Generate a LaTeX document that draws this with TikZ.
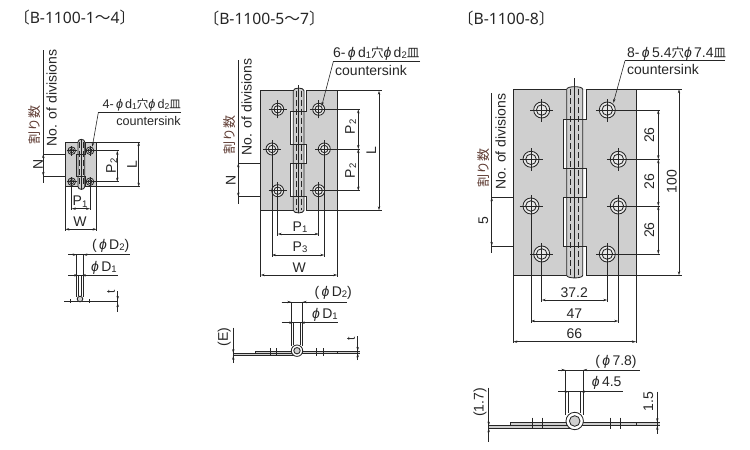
\documentclass[tikz,border=0pt]{standalone}
\usepackage{fontspec}
\usetikzlibrary{arrows.meta}
\setmainfont{Liberation Sans}
\newfontfamily\cjk{Noto Sans CJK JP}
\newfontfamily\headfont{Noto Sans}
\definecolor{platecol}{HTML}{CFCFCF}
\definecolor{inkcol}{HTML}{262626}
\definecolor{labcol}{HTML}{262626}
\definecolor{kanjicol}{HTML}{5E3B32}
\tikzset{
  edge/.style={draw=inkcol, line width=0.85pt},
  aux/.style={draw=inkcol, line width=0.6pt},
  dim/.style={aux, {Stealth[length=4pt,width=2.4pt]}-{Stealth[length=4pt,width=2.4pt]}},
  dimtip/.style={aux, -{Stealth[length=4pt,width=2.4pt]}},
  lab/.style={font=\fontsize{14}{16}\selectfont, text=labcol, inner sep=0pt},
  tinylab/.style={font=\fontsize{12.6}{15}\selectfont, text=labcol, inner sep=0pt},
  vlab/.style={lab, rotate=90},
  kanji/.style={font=\cjk\fontsize{13}{16}\selectfont, text=kanjicol, inner sep=0pt, rotate=90},
  head/.style={font=\headfont\fontsize{15.7}{18}\selectfont, text=labcol, inner sep=0pt},
}
\newcommand{\lowidx}[1]{\raisebox{-.08em}{\scalebox{.68}{#1}}}
\newcommand{\phisym}{{\itshape ϕ}}
\newcommand{\headcjk}[1]{{\cjk\fontsize{15.7}{18}\selectfont #1}}
\newcommand{\holemark}[5]{% name, position, outer radius, inner radius, arm
  \coordinate (#1) at (#2);
  \fill[white!55!platecol] (#1) circle [radius=#3];
  \draw[edge] (#1) circle [radius=#3];
  \draw[edge] (#1) circle [radius=#4];
  \draw[aux] ([xshift=-#5]#1) -- ([xshift=#5]#1);
  \draw[aux] ([yshift=-#5]#1) -- ([yshift=#5]#1);
}
\def\splitys#1/#2/#3/#4\relax{\def\ya{#1}\def\yb{#2}\def\yc{#3}\def\yd{#4}}
\newcommand{\hingebody}[9]{% xl, recess, knuckle l, knuckle r, right leaf, xr, top, bottom, tab rows
  \splitys#9\relax
  \fill[platecol] (#1,#7) rectangle (#6,#8);
  \fill[white] (#4,#7) rectangle (#5,\ya) (#4,\yb) rectangle (#5,\yc) (#4,\yd) rectangle (#5,#8);
  \fill[white] (#2,\ya) rectangle (#3,\yb) (#2,\yc) rectangle (#3,\yd);
  \draw[edge] (#3,#7) -- (#1,#7) -- (#1,#8) -- (#3,#8);
  \draw[edge] (#5,#7) -- (#6,#7) -- (#6,#8) -- (#5,#8) -- (#5,\yd) -- (#2,\yd) -- (#2,\yc)
     -- (#5,\yc) -- (#5,\yb) -- (#2,\yb) -- (#2,\ya) -- (#5,\ya) -- cycle;
  \draw[edge, fill=platecol] (#3,#8) .. controls (#3,#8+3.5) and (#4,#8+3.5) .. (#4,#8)
     -- (#4,#7) .. controls (#4,#7-3.5) and (#3,#7-3.5) .. (#3,#7) -- cycle;
  \draw[aux, dashed, dash pattern=on 6pt off 3pt] ({#3+(#4-#3)/4},#7) -- ({#3+(#4-#3)/4},#8);
  \draw[aux, dashed, dash pattern=on 6pt off 3pt] ({#4-(#4-#3)/4},#7) -- ({#4-(#4-#3)/4},#8);
  \draw[edge] (#5,\ya) -- (#2,\ya) (#5,\yb) -- (#2,\yb) (#5,\yc) -- (#2,\yc) (#5,\yd) -- (#2,\yd);
}
\begin{document}
\begin{tikzpicture}[x=1pt, y=-1pt]
\useasboundingbox (0,0) rectangle (750,450);

% small hinge
\node[head] (headA) at (74.7,17.7) {\headcjk{〔}B-1100-1\headcjk{〜}4\headcjk{〕}};
\draw[aux] (43.3,154) -- (85.3,154);
\draw[aux] (43.3,176) -- (85.3,176);
\hingebody{65.3}{76.7}{78}{84.7}{85.7}{96.7}{142}{186.7}{154/176/176/176}
\draw[aux] (81.3,139) -- (81.3,190);
\holemark{holeAa}{71.7,150.7}{3.8}{2}{5pt}
\holemark{holeAb}{90,150.7}{3.8}{2}{5pt}
\holemark{holeAc}{71.7,181.7}{3.8}{2}{5pt}
\holemark{holeAd}{90,181.7}{3.8}{2}{5pt}
\draw[aux] (43.3,50) -- (43.3,183.3);
\draw[dim] (43.3,154) -- (43.3,176);
\node[kanji] (kanjiA) at (35,125) {割り数};
\node[vlab] (divA) at (51.7,98) {No. of divisions};
\node[vlab] (nA) at (38,164) {N};
\draw[aux] (holeAb) -- (118.5,150.7);
\draw[aux] (holeAd) -- (118.5,181.7);
\draw[dim] (117.3,150.7) -- (117.3,181.7);
\node[vlab] (ptwoA) at (111.7,165.7) {P\lowidx{2}};
\draw[aux] (96.7,142) -- (140,142);
\draw[aux] (96.7,186.7) -- (140,186.7);
\draw[dim] (138.7,142) -- (138.7,186.7);
\node[vlab] (lenA) at (132,165) {L};
\draw[aux] (holeAc) -- (71.7,210);
\draw[aux] (holeAd) -- (90,210);
\draw[dim] (71.7,208.7) -- (90,208.7);
\node[lab] (poneA) at (80,201.7) {P\lowidx{1}};
\draw[aux] (65.3,186.7) -- (65.3,231);
\draw[aux] (96.7,186.7) -- (96.7,231);
\draw[dim] (65.3,229.3) -- (96.7,229.3);
\node[lab] (widA) at (80,221.7) {W};
\node[tinylab, anchor=east] (holeA) at (181,105) {4-\,\phisym\,d\lowidx{1}{\cjk\fontsize{11.5}{14}\selectfont 穴}\phisym\,d\lowidx{2}{\cjk\fontsize{11.5}{14}\selectfont 皿}};
\node[tinylab, anchor=east] (sinkA) at (181,120.7) {countersink};
\coordinate (tipA) at (92.3,146.7);
\draw[aux] (181,112.7) -- (98.3,112.7);
\draw[dimtip] (98.3,112.7) -- (tipA);

% small hinge, side view
\draw[line width=1.3pt, draw=inkcol] (64,301.3) -- (116.7,301.3);
\draw[aux] (70,299) -- (70,303);
\draw[aux] (89.3,299) -- (89.3,303);
\draw[aux] (76.7,254.7) -- (76.7,297);
\draw[aux] (83.3,254.7) -- (83.3,297);
\draw[aux] (78.3,275.3) -- (78.3,296);
\draw[aux] (81.7,275.3) -- (81.7,296);
\draw[edge, fill=platecol] (80,299) circle [radius=2.8];
\draw[aux] (68.3,254.7) -- (130,254.7);
\draw[dimtip] (68.3,254.7) -- (76.7,254.7);
\draw[dimtip] (91.3,254.7) -- (83.3,254.7);
\draw[aux] (68.3,275.3) -- (118.3,275.3);
\draw[dimtip] (70,275.3) -- (78.3,275.3);
\draw[dimtip] (90,275.3) -- (81.7,275.3);
\node[lab] (dtwoA) at (110.7,245.7) {(\,\phisym\,D\lowidx{2})};
\node[lab] (doneA) at (104,267.7) {\phisym\,D\lowidx{1}};
\draw[aux] (117.7,291) -- (117.7,311.7);
\draw[dimtip] (117.7,291) -- (117.7,300);
\draw[dimtip] (117.7,311.7) -- (117.7,303);
\node[lab, rotate=90, font=\fontsize{12}{14}\selectfont] (thkA) at (111,292) {t};

% medium hinge
\node[head] (headB) at (264.2,18.3) {\headcjk{〔}B-1100-5\headcjk{〜}7\headcjk{〕}};
\draw[aux] (238.3,163.3) -- (306,163.3);
\draw[aux] (238.3,196.7) -- (306,196.7);
\hingebody{260.7}{290.7}{293.3}{304}{306}{337.3}{90.7}{210.3}{111.7/144/163.3/196.7}
\draw[aux] (298.7,85) -- (298.7,213);
\foreach \nm/\hx/\hy in {Ba/277.7/109.3, Bb/272/149, Bc/277.7/190.7,
    Bd/318.7/109.3, Be/324.3/149, Bf/318.7/190.7}
  {\holemark{hole\nm}{\hx,\hy}{6}{3.7}{9pt}}
\draw[aux] (238.3,60) -- (238.3,204);
\draw[dim] (238.3,163.3) -- (238.3,196.7);
\node[kanji] (kanjiB) at (229.3,135) {割り数};
\node[vlab] (divB) at (246.7,107) {No. of divisions};
\node[vlab] (nB) at (230.7,180) {N};
\draw[aux] (holeBd) -- (360,109.3);
\draw[aux] (holeBe) -- (360,149);
\draw[aux] (holeBf) -- (360,190.7);
\draw[dim] (358.3,109.3) -- (358.3,149);
\draw[dim] (358.3,149) -- (358.3,190.7);
\node[vlab] (ptwoB) at (350.7,126.7) {P\lowidx{2}};
\node[vlab] (pthrB) at (350.7,170.7) {P\lowidx{2}};
\draw[aux] (337.3,90.7) -- (382,90.7);
\draw[aux] (337.3,210.3) -- (382,210.3);
\draw[dim] (379,90.7) -- (379,210.3);
\node[vlab] (lenB) at (371.3,150.7) {L};
\draw[aux] (holeBc) -- (277.7,235.7);
\draw[aux] (holeBf) -- (318.7,235.7);
\draw[dim] (277.7,234) -- (318.7,234);
\node[lab] (poneB) at (300,227.3) {P\lowidx{1}};
\draw[aux] (holeBb) -- (272,256.7);
\draw[aux] (holeBe) -- (324.3,256.7);
\draw[dim] (272,255) -- (324.3,255);
\node[lab] (pthreeB) at (300,247) {P\lowidx{3}};
\draw[aux] (260.7,210.3) -- (260.7,276.7);
\draw[aux] (337.3,210.3) -- (337.3,276.7);
\draw[dim] (260.7,275) -- (337.3,275);
\node[lab] (widB) at (299.3,267.7) {W};
\node[lab, anchor=east] (holeB) at (419.5,53.3) {6-\,\phisym\,d\lowidx{1}{\cjk\fontsize{12.5}{14}\selectfont 穴}\phisym\,d\lowidx{2}{\cjk\fontsize{12.5}{14}\selectfont 皿}};
\node[lab, anchor=west] (sinkB) at (335,70.7) {countersink};
\coordinate (tipB) at (321.7,106);
\draw[aux] (420,61.7) -- (333.3,61.7);
\draw[dimtip] (333.3,61.7) -- (tipB);

% medium hinge, side view
\draw[edge, fill=platecol] (255,351) rectangle (292,353.3);
\draw[edge, fill=platecol] (302,351) rectangle (337.7,353.3);
\fill[platecol] (232.7,353.3) rectangle (292,355.7);
\draw[aux] (232.7,353.3) -- (292,353.3) (232.7,355.7) -- (294,355.7);
\fill[platecol] (337.7,351) rectangle (360,353.3);
\draw[aux] (337.7,351) -- (360,351) (337.7,353.3) -- (360,353.3);
\foreach \tx in {270.7,276.7,316.7,323.3}
  \draw[aux] (\tx,348.3) -- (\tx,356);
\draw[aux] (291.3,302) -- (291.3,346);
\draw[aux] (302.7,302) -- (302.7,346);
\draw[aux] (293.3,322.7) -- (293.3,345);
\draw[aux] (300.7,322.7) -- (300.7,345);
\draw[edge, fill=white] (297,350.7) circle [radius=5.7];
\draw[edge, fill=platecol] (297,350.7) circle [radius=3.2];
\draw[aux] (281.7,302) -- (346.7,302);
\draw[dimtip] (281.7,302) -- (291.3,302);
\draw[dimtip] (312,302) -- (302.7,302);
\draw[aux] (281.7,322.7) -- (338.3,322.7);
\draw[dimtip] (283,322.7) -- (293.3,322.7);
\draw[dimtip] (310,322.7) -- (300.7,322.7);
\node[lab] (dtwoB) at (333.3,292.7) {(\,\phisym\,D\lowidx{2})};
\node[lab] (doneB) at (325,315) {\phisym\,D\lowidx{1}};
\draw[aux] (233.3,327.7) -- (233.3,363.3);
\draw[dimtip] (233.3,346) -- (233.3,353.3);
\draw[dimtip] (233.3,363) -- (233.3,355.7);
\node[lab, rotate=90] (gapB) at (224.3,337.3) {(E)};
\draw[aux] (357.7,336) -- (357.7,360);
\draw[dimtip] (357.7,344) -- (357.7,351);
\draw[dimtip] (357.7,360) -- (357.7,353.3);
\node[lab, rotate=90, font=\fontsize{12}{14}\selectfont] (thkB) at (351,339.3) {t};

% large hinge
\node[head] (headC) at (506.3,18.3) {\headcjk{〔}B-1100-8\headcjk{〕}};
\draw[aux] (491.7,197.3) -- (586,197.3);
\draw[aux] (491.7,246) -- (586,246);
\hingebody{513.3}{563.3}{566.7}{582.7}{586}{636}{89.3}{275.3}{119.3/168.3/197.3/246}
\draw[aux] (574.7,78.3) -- (574.7,278);
\foreach \nm/\hx/\hy in {Ca/541.7/110, Cb/531/159.3, Cc/531/206, Cd/541.7/254,
    Ce/607.3/110, Cf/618.3/159.3, Cg/618.3/206, Ch/607.3/254}
  {\holemark{hole\nm}{\hx,\hy}{8}{5.3}{11.5pt}}
\draw[aux] (491.7,93.3) -- (491.7,253.3);
\draw[dim] (491.7,197.3) -- (491.7,246);
\node[kanji] (kanjiC) at (483.3,168.3) {割り数};
\node[vlab] (divC) at (500.7,141.7) {No. of divisions};
\node[vlab] (nC) at (483.3,221) {5};
\draw[aux] (holeCe) -- (659.5,110);
\draw[aux] (holeCf) -- (659.5,159.3);
\draw[aux] (holeCg) -- (659.5,206);
\draw[aux] (holeCh) -- (659.5,254);
\draw[dim] (658.3,110) -- (658.3,159.3);
\draw[dim] (658.3,159.3) -- (658.3,206);
\draw[dim] (658.3,206) -- (658.3,254);
\node[vlab] (pitchCa) at (649.3,135) {26};
\node[vlab] (pitchCb) at (649.3,181.7) {26};
\node[vlab] (pitchCc) at (649.3,230) {26};
\draw[aux] (636,89.3) -- (681.7,89.3);
\draw[aux] (636,275.3) -- (681.7,275.3);
\draw[dim] (679,89.3) -- (679,275.3);
\node[vlab] (lenC) at (671.7,181.7) {100};
\draw[aux] (holeCd) -- (541.7,301.5);
\draw[aux] (holeCh) -- (607.3,301.5);
\draw[dim] (541.7,300) -- (607.3,300);
\node[lab] (poneC) at (574.3,292.3) {37.2};
\draw[aux] (holeCc) -- (531,322.5);
\draw[aux] (holeCg) -- (618.3,322.5);
\draw[dim] (531,321) -- (618.3,321);
\node[lab] (pthreeC) at (574.3,313.3) {47};
\draw[aux] (513.3,275.3) -- (513.3,343);
\draw[aux] (636,275.3) -- (636,343);
\draw[dim] (513.3,341.7) -- (636,341.7);
\node[lab] (widC) at (574.3,334) {66};
\node[lab, anchor=west] (holeC) at (627,53.3) {8-\,\phisym\,5.4{\cjk\fontsize{12.5}{14}\selectfont 穴}\phisym\,7.4{\cjk\fontsize{12.5}{14}\selectfont 皿}};
\node[lab, anchor=west] (sinkC) at (627,69.3) {countersink};
\coordinate (tipC) at (613.3,103);
\draw[aux] (725,60.7) -- (625,60.7);
\draw[dimtip] (625,60.7) -- (tipC);

% large hinge, side view
\draw[edge, fill=platecol] (510,422.3) rectangle (568,425.7);
\draw[edge, fill=platecol] (580,422.3) rectangle (636.7,425.7);
\fill[platecol] (488.3,425.7) rectangle (570,428.3);
\draw[aux] (488.3,425.7) -- (568,425.7) (488.3,428.3) -- (570,428.3);
\fill[platecol] (636.7,422.3) rectangle (660,425.7);
\draw[aux] (636.7,422.3) -- (660,422.3) (636.7,425.7) -- (660,425.7);
\foreach \tx in {532.3,542.3,610,620}
  \draw[aux] (\tx,417.7) -- (\tx,429);
\draw[aux] (565.3,370) -- (565.3,415);
\draw[aux] (583.3,370) -- (583.3,415);
\draw[aux] (568.7,391.7) -- (568.7,413);
\draw[aux] (580.7,391.7) -- (580.7,413);
\draw[edge, fill=white] (574.7,421) circle [radius=8.7];
\draw[edge, fill=platecol] (574.7,421) circle [radius=5.3];
\draw[aux] (558.3,370) -- (640,370);
\draw[dimtip] (558.3,370) -- (565.3,370);
\draw[dimtip] (591,370) -- (583.3,370);
\draw[aux] (558.3,391.7) -- (622.7,391.7);
\draw[dimtip] (560,391.7) -- (568.7,391.7);
\draw[dimtip] (589,391.7) -- (580.7,391.7);
\node[lab] (dtwoC) at (616,362.3) {(\,\phisym\,7.8)};
\node[lab] (doneC) at (606.7,383.3) {\phisym\,4.5};
\draw[aux] (488.7,387.7) -- (488.7,441.7);
\draw[dimtip] (488.7,418) -- (488.7,425.7);
\draw[dimtip] (488.7,436) -- (488.7,428.3);
\node[lab, rotate=90] (gapC) at (480,402.3) {(1.7)};
\draw[aux] (657.3,391.7) -- (657.3,434.3);
\draw[dimtip] (657.3,415) -- (657.3,422.3);
\draw[dimtip] (657.3,433) -- (657.3,425.7);
\node[lab, rotate=90] (thkC) at (648.3,401.7) {1.5};
\end{tikzpicture}
\end{document}
